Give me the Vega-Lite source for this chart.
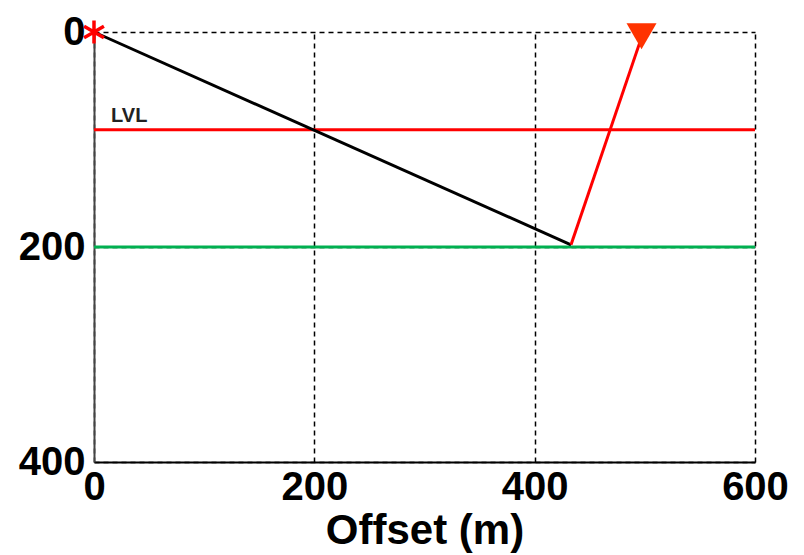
{
  "$schema": "https://vega.github.io/schema/vega-lite/v6.json",
  "width": 661,
  "height": 430,
  "autosize": "none",
  "padding": {"left": 94, "top": 32, "right": 49, "bottom": 93},
  "config": {"view": {"stroke": null}, "font": "Liberation Sans"},
  "layer": [
    {
      "data": {"values": [{"offset": 0, "depth": 0}, {"offset": 600, "depth": 400}]},
      "mark": {"type": "point", "opacity": 0},
      "encoding": {
        "x": {"field": "offset", "type": "quantitative",
          "scale": {"domain": [0, 600], "nice": false, "zero": false},
          "axis": {"title": "Offset (m)", "titleFontSize": 42, "titleFontWeight": "bold", "titleColor": "#000", "titleFont": "Liberation Sans",
            "titlePadding": 3,
            "values": [0, 200, 400, 600], "labelFont": "Liberation Sans", "labelFontSize": 40, "labelFontWeight": "bold", "labelColor": "#000",
            "labelFlush": false, "labelPadding": 5, "ticks": false,
            "grid": true, "gridDash": [5, 4], "gridColor": "#000", "gridWidth": 1.5, "gridOpacity": 1,
            "domainColor": "#000", "domainWidth": 2}},
        "y": {"field": "depth", "type": "quantitative",
          "scale": {"domain": [0, 400], "reverse": true, "nice": false, "zero": false},
          "axis": {"title": null, "values": [0, 200, 400], "labelFont": "Liberation Sans", "labelFontSize": 40, "labelFontWeight": "bold", "labelColor": "#000",
            "labelFlush": false, "labelPadding": 9, "ticks": false,
            "grid": true, "gridDash": [5, 4], "gridColor": "#000", "gridWidth": 1.5, "gridOpacity": 1,
            "domainColor": "#444", "domainWidth": 2}}
      }
    },
    {
      "data": {"values": [{"depth": 91}]},
      "mark": {"type": "rule", "color": "#ff0000", "strokeWidth": 3},
      "encoding": {"y": {"field": "depth", "type": "quantitative"}}
    },
    {
      "data": {"values": [{"depth": 200}]},
      "mark": {"type": "rule", "color": "#00b050", "strokeWidth": 3},
      "encoding": {"y": {"field": "depth", "type": "quantitative"}}
    },
    {
      "data": {"values": [{"offset": 0, "depth": 0}, {"offset": 433, "depth": 198}]},
      "mark": {"type": "line", "color": "#000000", "strokeWidth": 3},
      "encoding": {"x": {"field": "offset", "type": "quantitative"}, "y": {"field": "depth", "type": "quantitative"}}
    },
    {
      "data": {"values": [{"offset": 433, "depth": 198}, {"offset": 497, "depth": 5}]},
      "mark": {"type": "line", "color": "#ff0000", "strokeWidth": 3},
      "encoding": {"x": {"field": "offset", "type": "quantitative"}, "y": {"field": "depth", "type": "quantitative"}}
    },
    {
      "data": {"values": [{"label": "LVL", "offset": 32, "depth": 78}]},
      "mark": {"type": "text", "fontSize": 20, "fontWeight": "bold", "color": "#222"},
      "encoding": {"x": {"field": "offset", "type": "quantitative"}, "y": {"field": "depth", "type": "quantitative"}, "text": {"field": "label"}}
    },
    {
      "data": {"values": [{"offset": 0, "depth": 0}]},
      "mark": {"type": "point", "shape": "M0,-1L0,1M-0.87,-0.5L0.87,0.5M-0.87,0.5L0.87,-0.5", "size": 520, "stroke": "#ff0000", "strokeWidth": 3.5, "filled": false, "opacity": 1},
      "encoding": {"x": {"field": "offset", "type": "quantitative"}, "y": {"field": "depth", "type": "quantitative"}}
    },
    {
      "data": {"values": [{"offset": 497, "depth": 4}]},
      "mark": {"type": "point", "shape": "triangle-down", "size": 900, "color": "#ff3300", "filled": true, "opacity": 1},
      "encoding": {"x": {"field": "offset", "type": "quantitative"}, "y": {"field": "depth", "type": "quantitative"}}
    }
  ]
}
